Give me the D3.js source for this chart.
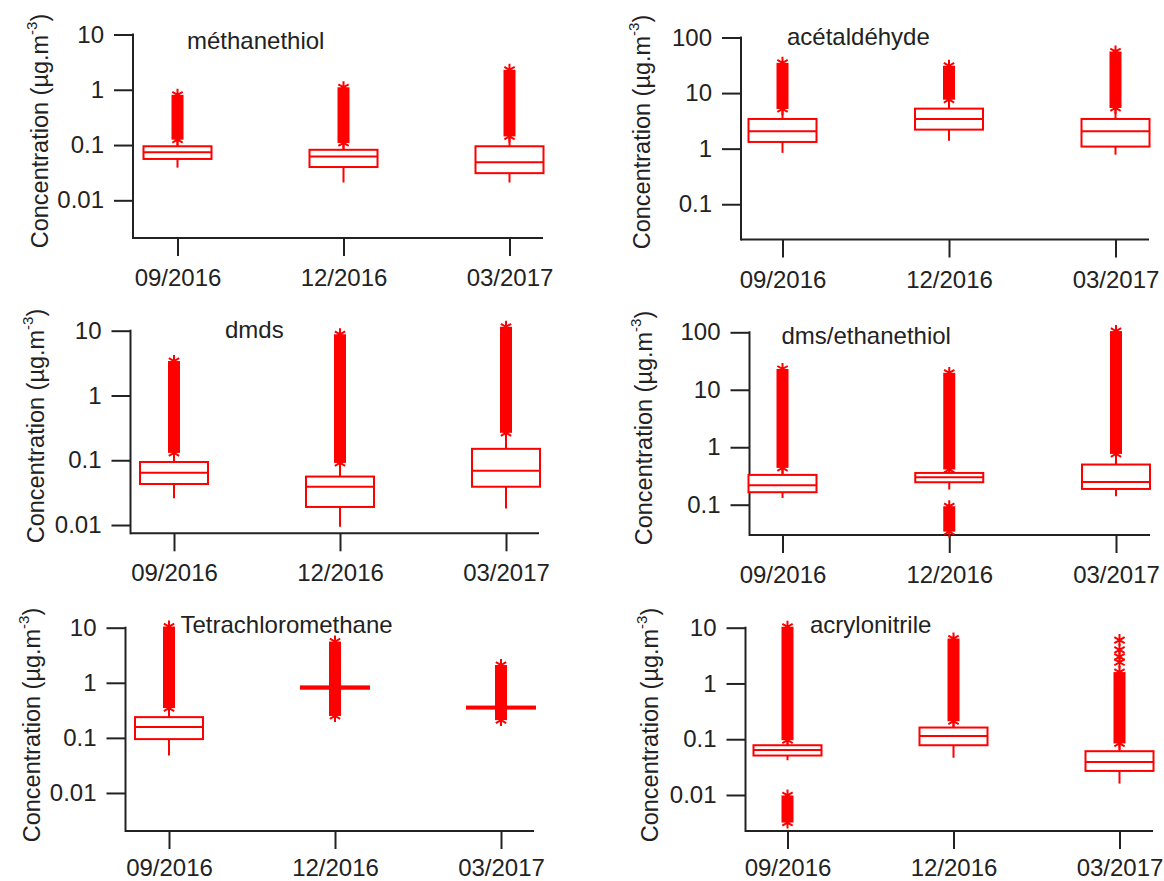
<!DOCTYPE html>
<html>
<head>
<meta charset="utf-8">
<script src="https://cdn.jsdelivr.net/npm/d3@7"></script>
<style>
  body { margin: 0; background: #fff; }
  text { font-family: "Liberation Sans", Arial, sans-serif; fill: #222; }
</style>
</head>
<body>
<svg id="chart" width="1164" height="881"></svg>
<script>
// Box plots of concentrations per campaign, log scale

// categories
const dates = ["09/2016", "12/2016", "03/2017"];
const compounds = ["méthanethiol", "acétaldéhyde", "dmds", "dms/ethanethiol", "Tetrachloromethane", "acrylonitrile"];

// y tick values and bottom of each log axis
const yTicks = [
  [0.01, 0.1, 1, 10],
  [0.1, 1, 10, 100],
  [0.01, 0.1, 1, 10],
  [0.1, 1, 10, 100],
  [0.01, 0.1, 1, 10],
  [0.01, 0.1, 1, 10]
];
const yMin = [0.00208, 0.0232, 0.00745, 0.0297, 0.00204, 0.00226];

// box statistics, one row per compound, one value per date
const whiskerLow = [
  [0.039, 0.021, 0.021],
  [0.84, 1.39, 0.78],
  [0.026, 0.0094, 0.018],
  [0.131, 0.183, 0.14],
  [0.048, 0.78, 0.34],
  [0.042, 0.0465, 0.016]
];
const q1 = [
  [0.056, 0.040, 0.031],
  [1.32, 2.2, 1.09],
  [0.043, 0.019, 0.039],
  [0.165, 0.246, 0.188],
  [0.095, 0.78, 0.34],
  [0.051, 0.078, 0.027]
];
const median = [
  [0.074, 0.062, 0.049],
  [2.05, 3.42, 2.05],
  [0.064, 0.039, 0.069],
  [0.218, 0.30, 0.249],
  [0.157, 0.82, 0.355],
  [0.064, 0.114, 0.039]
];
const q3 = [
  [0.095, 0.082, 0.095],
  [3.42, 5.25, 3.42],
  [0.094, 0.056, 0.15],
  [0.33, 0.357, 0.50],
  [0.238, 0.86, 0.37],
  [0.078, 0.162, 0.061]
];
const whiskerHigh = [
  [0.125, 0.109, 0.143],
  [5.17, 7.6, 5.4],
  [0.13, 0.091, 0.265],
  [0.437, 0.41, 0.765],
  [0.347, 0.86, 0.37],
  [0.096, 0.21, 0.084]
];
// extent of the dense upper outlier columns
const outlierLow = [
  [0.125, 0.109, 0.143],
  [5.17, 7.6, 5.4],
  [0.13, 0.091, 0.265],
  [0.437, 0.41, 0.765],
  [0.347, 0.25, 0.21],
  [0.096, 0.21, 0.084]
];
const outlierHigh = [
  [0.81, 1.11, 2.3],
  [35, 31, 56],
  [3.4, 8.8, 11.5],
  [23, 19.7, 105],
  [10.5, 5.6, 2.1],
  [10.4, 6.4, 1.6]
];
// low outlier clusters: compound, date, from, to
const lowClusters = [
  ["dms/ethanethiol", "12/2016", 0.034, 0.094],
  ["acrylonitrile", "09/2016", 0.0032, 0.0098]
];
// isolated outliers above the columns
const extraStars = [
  ["acrylonitrile", "03/2017", [2.4, 3.0, 4.0, 6.0]],
  ["dmds", "12/2016", [6.0]]
];

// panel layout (pixels)
const panels = [
  { axisX: 133, x0: 177.5, x2: 509.5, axisEnd: 543, top: 34.5, bottom: 238, pad: 13, titleX: 187, titleY: 49, labelX: 47.5, labelY: 131 },
  { axisX: 741, x0: 782.5, x2: 1115.5, axisEnd: 1149, top: 37.5, bottom: 239.5, pad: 13, titleX: 787, titleY: 45, labelX: 650, labelY: 132 },
  { axisX: 130.5, x0: 174, x2: 506, axisEnd: 539, top: 330.7, bottom: 533.3, pad: 13, titleX: 225, titleY: 338, labelX: 43.5, labelY: 426 },
  { axisX: 749.5, x0: 782.5, x2: 1116, axisEnd: 1150, top: 332.3, bottom: 535, pad: 13, titleX: 781.5, titleY: 344, labelX: 652, labelY: 428 },
  { axisX: 125.5, x0: 169, x2: 501, axisEnd: 534, top: 627.7, bottom: 831, pad: 10, titleX: 180.5, titleY: 633, labelX: 40, labelY: 725 },
  { axisX: 745.5, x0: 787.5, x2: 1119.5, axisEnd: 1153, top: 627.7, bottom: 831, pad: 10, titleX: 810, titleY: 633, labelX: 657.5, labelY: 725 }
];

const red = "#ff0000";
const ink = "#222";
const boxW = 68;
const colW = 12;
const svg = d3.select("#chart");
const star = d3.symbol().type(d3.symbolAsterisk).size(100);

compounds.forEach((name, i) => {
  const L = panels[i];
  const g = svg.append("g");
  const x = d3.scalePoint().domain(dates).range([L.x0, L.x2]);
  const ticks = yTicks[i];
  const y = d3.scaleLog().domain([yMin[i], ticks[ticks.length - 1]]).range([L.bottom, L.top]);

  // axes
  const ya = g.append("g").attr("transform", `translate(${L.axisX},0)`)
    .call(d3.axisLeft(y).tickValues(ticks).tickFormat(d => String(d)).tickSize(19).tickPadding(10));
  ya.select(".domain").remove();
  const xa = g.append("g").attr("transform", `translate(0,${L.bottom})`)
    .call(d3.axisBottom(x).tickSize(18).tickPadding(L.pad));
  xa.select(".domain").remove();
  g.selectAll(".tick line").attr("stroke", ink).attr("stroke-width", 2);
  g.selectAll(".tick text").attr("font-size", 24).attr("fill", ink)
    .style("font-family", "'Liberation Sans', Arial, sans-serif");
  g.append("line").attr("x1", L.axisX).attr("x2", L.axisX).attr("y1", y(ticks[ticks.length - 1]) - 1).attr("y2", L.bottom + 1)
    .attr("stroke", ink).attr("stroke-width", 2);
  g.append("line").attr("x1", L.axisX).attr("x2", L.axisEnd).attr("y1", L.bottom).attr("y2", L.bottom)
    .attr("stroke", ink).attr("stroke-width", 2);

  // title
  g.append("text").attr("x", L.titleX).attr("y", L.titleY).attr("font-size", 24).text(name);

  // y label
  const lab = g.append("text").attr("transform", `translate(${L.labelX},${L.labelY}) rotate(-90)`)
    .attr("text-anchor", "middle").attr("font-size", 23.5);
  lab.append("tspan").text("Concentration (µg.m");
  lab.append("tspan").attr("font-size", 15).attr("dy", -11).text("-3");
  lab.append("tspan").attr("dy", 11).text(")");

  const marks = g.append("g").attr("stroke", red).attr("fill", "none").attr("stroke-width", 2);

  dates.forEach((d, j) => {
    const cx = x(d);
    // outlier column
    const yTop = y(outlierHigh[i][j]), yBot = y(outlierLow[i][j]);
    marks.append("rect").attr("x", cx - colW / 2).attr("y", yTop).attr("width", colW).attr("height", yBot - yTop)
      .attr("fill", red).attr("stroke", "none");
    [outlierHigh[i][j], outlierLow[i][j]].forEach(v => {
      marks.append("path").attr("d", star).attr("transform", `translate(${cx},${y(v)})`);
    });
    // whiskers
    marks.append("line").attr("x1", cx).attr("x2", cx).attr("y1", y(whiskerLow[i][j])).attr("y2", y(q1[i][j]));
    marks.append("line").attr("x1", cx).attr("x2", cx).attr("y1", y(q3[i][j])).attr("y2", y(whiskerHigh[i][j]));
    // box
    marks.append("rect").attr("x", cx - boxW / 2).attr("y", y(q3[i][j])).attr("width", boxW)
      .attr("height", y(q1[i][j]) - y(q3[i][j])).attr("fill", "#fff");
    marks.append("line").attr("x1", cx - boxW / 2).attr("x2", cx + boxW / 2)
      .attr("y1", y(median[i][j])).attr("y2", y(median[i][j]));
  });

  lowClusters.filter(c => c[0] === name).forEach(c => {
    const cx = x(c[1]);
    const yTop = y(c[3]), yBot = y(c[2]);
    marks.append("rect").attr("x", cx - colW / 2).attr("y", yTop).attr("width", colW).attr("height", yBot - yTop)
      .attr("fill", red).attr("stroke", "none");
    [c[2], c[3]].forEach(v => marks.append("path").attr("d", star).attr("transform", `translate(${cx},${y(v)})`));
  });

  extraStars.filter(c => c[0] === name).forEach(c => {
    const cx = x(c[1]);
    c[2].forEach(v => marks.append("path").attr("d", star).attr("transform", `translate(${cx},${y(v)})`));
  });
});
</script>
</body>
</html>
